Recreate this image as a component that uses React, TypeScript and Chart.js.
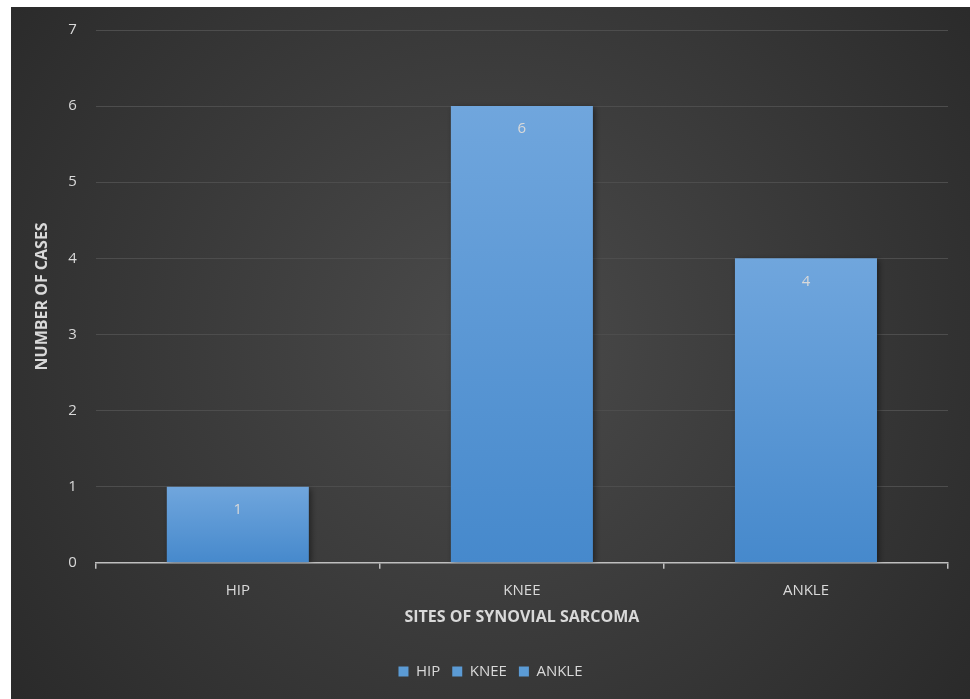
import React, { useEffect, useRef } from "react";
import { Chart, registerables } from "chart.js";

Chart.register(...registerables);

const categories = ["HIP", "KNEE", "ANKLE"];
const cases = [1, 6, 4];
const yTicks = [0, 1, 2, 3, 4, 5, 6, 7];

const FONT = "'Open Sans', 'Liberation Sans', sans-serif";
const TEXT = "#d9d9d9";
const BLUE = "#5b9bd5";

// dark radial backdrop behind the whole chart
const backdrop = {
  id: "backdrop",
  beforeDraw(chart: any) {
    const { ctx, width, height } = chart;
    const g = ctx.createRadialGradient(width * 0.5, height * 0.48, 0, width * 0.5, height * 0.48, Math.max(width, height) * 0.7);
    g.addColorStop(0, "#4b4b4b");
    g.addColorStop(1, "#262626");
    ctx.save();
    ctx.fillStyle = g;
    ctx.fillRect(0, 0, width, height);
    ctx.restore();
  },
};

// soft shadow under the bars
const barShadow = {
  id: "barShadow",
  beforeDatasetDraw(chart: any) {
    const ctx = chart.ctx;
    ctx.save();
    ctx.shadowColor = "rgba(0,0,0,0.45)";
    ctx.shadowBlur = 6;
    ctx.shadowOffsetX = 2;
    ctx.shadowOffsetY = 2;
  },
  afterDatasetDraw(chart: any) {
    chart.ctx.restore();
  },
};

// value written inside the top of each bar
const valueLabels = {
  id: "valueLabels",
  afterDatasetsDraw(chart: any) {
    const { ctx } = chart;
    const meta = chart.getDatasetMeta(0);
    ctx.save();
    ctx.font = `15px ${FONT}`;
    ctx.fillStyle = TEXT;
    ctx.textAlign = "center";
    ctx.textBaseline = "middle";
    meta.data.forEach((bar: any, i: number) => {
      ctx.fillText(String(cases[i]), bar.x, bar.y + 23);
    });
    ctx.restore();
  },
};

export default function App() {
  const ref = useRef<HTMLCanvasElement>(null);

  useEffect(() => {
    if (!ref.current) return;
    const chart = new Chart(ref.current, {
      type: "bar",
      data: {
        labels: categories,
        datasets: [
          {
            label: "Cases",
            data: cases,
            backgroundColor: (c: any) => {
              const ch = c.chart;
              const y = ch.scales?.y;
              if (!ch.chartArea || !y || c.dataIndex === undefined) return BLUE;
              const top = y.getPixelForValue(cases[c.dataIndex]);
              const base = y.getPixelForValue(0);
              const g = ch.ctx.createLinearGradient(0, top, 0, base);
              g.addColorStop(0, "#70a6dd");
              g.addColorStop(1, "#4689cc");
              return g;
            },
            borderWidth: 0,
            barPercentage: 0.5,
            categoryPercentage: 1,
          },
        ],
      },
      options: {
        animation: false,
        responsive: false,
        maintainAspectRatio: false,
        layout: { padding: { top: 23, right: 22, bottom: 10, left: 22 } },
        plugins: {
          tooltip: { enabled: false },
          legend: {
            display: true,
            position: "bottom",
            labels: {
              color: TEXT,
              font: { family: FONT, size: 15 },
              boxWidth: 10,
              boxHeight: 10,
              padding: 12,
              generateLabels: () =>
                categories.map((c) => ({
                  text: c,
                  fillStyle: BLUE,
                  strokeStyle: BLUE,
                  lineWidth: 0,
                  fontColor: TEXT,
                  hidden: false,
                })),
            },
            onClick: () => {},
          },
        },
        scales: {
          x: {
            grid: {
              display: true,
              drawOnChartArea: false,
              offset: true,
              color: "#bfbfbf",
              tickLength: 6,
              lineWidth: 1.5,
            },
            border: { display: true, color: "#bfbfbf", width: 1.5 },
            ticks: { color: TEXT, font: { family: FONT, size: 15 }, padding: 13 },
            title: {
              display: true,
              text: "SITES OF SYNOVIAL SARCOMA",
              color: TEXT,
              font: { family: FONT, size: 16, weight: "bold" },
              padding: { top: -5, bottom: 25 },
            },
          },
          y: {
            min: 0,
            max: 7,
            afterBuildTicks: (axis: any) => {
              axis.ticks = yTicks.map((v) => ({ value: v }));
            },
            afterFit: (axis: any) => {
              // plot top is set by the layout padding alone
              axis.paddingTop = 0;
            },
            grid: { color: "#4d4d4d", lineWidth: 1, drawTicks: false },
            border: { display: false },
            ticks: { color: TEXT, font: { family: FONT, size: 15 }, padding: 19 },
            title: {
              display: true,
              text: "NUMBER OF CASES",
              color: TEXT,
              font: { family: FONT, size: 16, weight: "bold" },
              padding: { top: 0, bottom: -3 },
            },
          },
        },
      },
      plugins: [backdrop, barShadow, valueLabels],
    });
    return () => chart.destroy();
  }, []);

  return (
    <div style={{ position: "absolute", left: 0, top: 0, width: 970, height: 699, background: "#ffffff" }}>
      <canvas
        ref={ref}
        width={959}
        height={692}
        style={{ position: "absolute", left: 11, top: 7, width: 959, height: 692 }}
      />
    </div>
  );
}
